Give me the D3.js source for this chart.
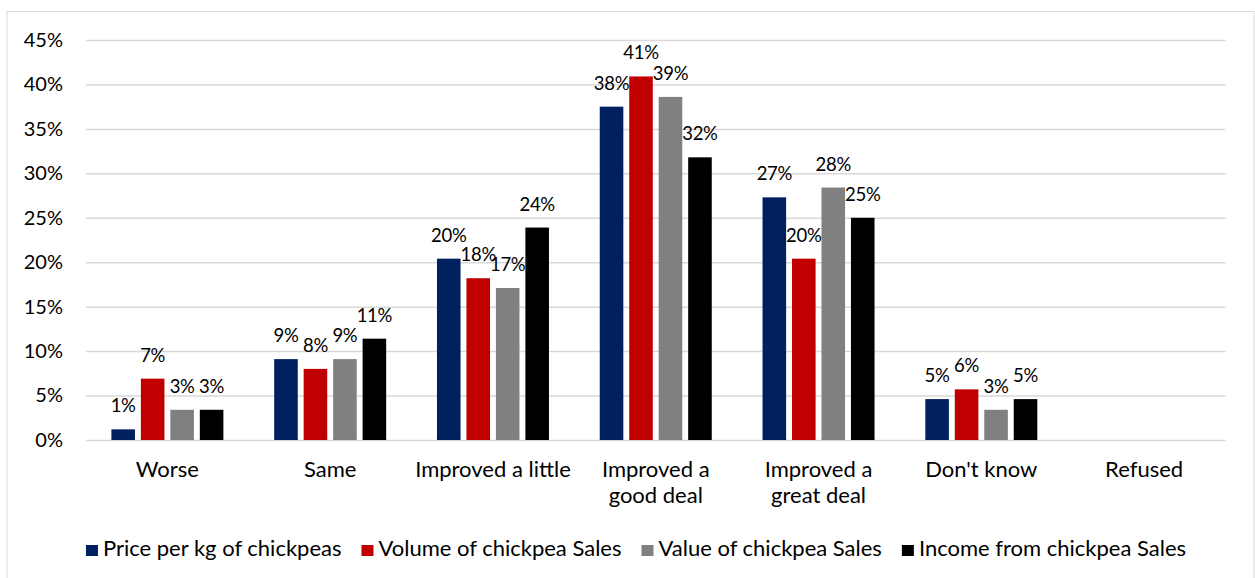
<!DOCTYPE html>
<html>
<head>
<meta charset="utf-8">
<script src="https://cdn.jsdelivr.net/npm/d3@7"></script>
<style>
  html, body { margin: 0; padding: 0; background: #fff; }
  svg { display: block; font-family: "Lato", "Open Sans", sans-serif; }
</style>
</head>
<body>
<svg id="chart" width="1255" height="578"></svg>
<script>
// Change in chickpea outcomes, share of respondents per answer
const categories = ["Worse", "Same", "Improved a little", "Improved a good deal", "Improved a great deal", "Don't know", "Refused"];
const categoryLines = [["Worse"], ["Same"], ["Improved a little"], ["Improved a", "good deal"], ["Improved a", "great deal"], ["Don't know"], ["Refused"]];
const seriesNames = ["Price per kg of chickpeas", "Volume of chickpea Sales", "Value of chickpea Sales", "Income from chickpea Sales"];
const seriesColors = ["#002060", "#C00000", "#808080", "#000000"];

const priceValues  = [0.012, 0.091, 0.204, 0.375, 0.273, 0.046, null];
const volumeValues = [0.069, 0.080, 0.182, 0.409, 0.204, 0.057, null];
const valueValues  = [0.034, 0.091, 0.171, 0.386, 0.284, 0.034, null];
const incomeValues = [0.034, 0.114, 0.239, 0.318, 0.250, 0.046, null];
const seriesValues = [priceValues, volumeValues, valueValues, incomeValues];

const yTicks = [0, 0.05, 0.10, 0.15, 0.20, 0.25, 0.30, 0.35, 0.40, 0.45];

const svg = d3.select("#chart");
const W = 1255, H = 578;
const margin = { left: 86, right: 29.5, top: 40, bottom: 138 };
const tickFont = 20, labelFont = 18.5, textFont = 22;

// outer frame
svg.append("rect")
  .attr("x", 7).attr("y", 11.5)
  .attr("width", 1247).attr("height", 600)
  .attr("fill", "#fff")
  .attr("stroke", "#d9d9d9").attr("stroke-width", 1);

const x0 = d3.scaleBand().domain(categories).range([margin.left, W - margin.right]).padding(0);
const groupInset = x0.bandwidth() * 0.156;
const x1 = d3.scaleBand().domain(seriesNames).range([groupInset, x0.bandwidth() - groupInset]).paddingInner(0.2).paddingOuter(0);
const y = d3.scaleLinear().domain([0, 0.45]).range([H - margin.bottom, margin.top]);

// horizontal gridlines and y labels
const yAxis = d3.axisLeft(y)
  .tickValues(yTicks)
  .tickFormat(d3.format(".0%"))
  .tickSize(-(W - margin.left - margin.right))
  .tickPadding(23);
const gy = svg.append("g").attr("transform", `translate(${margin.left},0)`).call(yAxis);
gy.select(".domain").remove();
gy.selectAll(".tick line").attr("stroke", "#d9d9d9").attr("stroke-width", 1.5);
gy.selectAll(".tick text").attr("fill", "#000").attr("font-size", tickFont).attr("font-family", "Lato, sans-serif");

// bars
const groups = svg.append("g").selectAll("g")
  .data(categories)
  .join("g")
  .attr("transform", d => `translate(${x0(d)},0)`);

const cells = (c, ci) => seriesNames.map((s, si) => ({ s, si, v: seriesValues[si][ci] })).filter(d => d.v != null);

groups.selectAll("rect")
  .data(cells)
  .join("rect")
  .attr("x", d => x1(d.s))
  .attr("width", x1.bandwidth())
  .attr("y", d => y(d.v))
  .attr("height", d => y(0) - y(d.v))
  .attr("fill", d => seriesColors[d.si]);

// value labels
groups.selectAll("text.val")
  .data(cells)
  .join("text")
  .attr("class", "val")
  .attr("x", d => x1(d.s) + x1.bandwidth() / 2)
  .attr("y", d => y(d.v) - 17)
  .attr("text-anchor", "middle")
  .attr("font-size", labelFont)
  .attr("letter-spacing", -0.3)
  .attr("fill", "#000")
  .text(d => d3.format(".0%")(d.v));

// category labels
const xl = svg.append("g").selectAll("text")
  .data(categories)
  .join("text")
  .attr("x", d => x0(d) + x0.bandwidth() / 2)
  .attr("y", y(0) + 37)
  .attr("text-anchor", "middle")
  .attr("font-size", textFont)
  .attr("fill", "#000");
xl.selectAll("tspan")
  .data((d, i) => categoryLines[i])
  .join("tspan")
  .attr("x", function () { return d3.select(this.parentNode).attr("x"); })
  .attr("dy", (d, i) => i === 0 ? 0 : 26)
  .text(d => d);

// legend, centred under the chart
const legend = svg.append("g");
const sq = 12, sqGap = 5, itemGap = 20;
const items = legend.selectAll("g").data(seriesNames).join("g");
items.append("rect")
  .attr("width", sq).attr("height", sq - 1)
  .attr("y", -11)
  .attr("fill", (d, i) => seriesColors[i]);
items.append("text")
  .attr("x", sq + sqGap)
  .attr("font-size", textFont)
  .attr("fill", "#000")
  .text(d => d);
let widths = [];
items.each(function () { widths.push(this.getBBox().width); });
const total = d3.sum(widths) + itemGap * (widths.length - 1);
let cx = 636 - total / 2;
items.attr("transform", (d, i) => {
  const t = `translate(${cx},556)`;
  cx += widths[i] + itemGap;
  return t;
});
</script>
</body>
</html>
